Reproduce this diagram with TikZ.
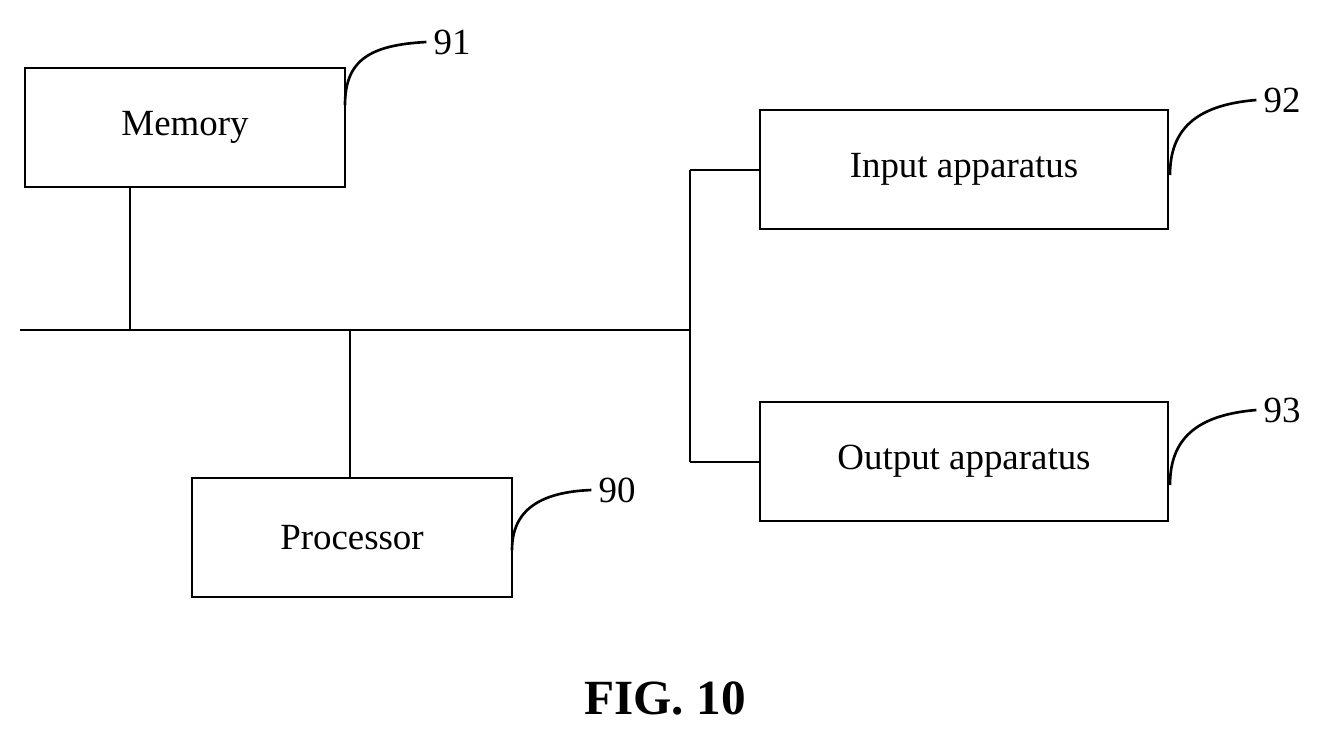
\documentclass[tikz,border=0pt]{standalone}
\usepackage{fontspec}
\setmainfont{Liberation Serif}
\begin{document}
\begin{tikzpicture}[x=0.02cm,y=-0.02cm,line width=1.5pt,
  box/.style={draw,line width=1.5pt,inner sep=0pt,font=\fontsize{21}{25}\selectfont},
  num/.style={font=\fontsize{21}{25}\selectfont},
  lead/.style={line width=1.5pt}]
\useasboundingbox (0,0) rectangle (1326,738);
\node[box,minimum width=320*0.02cm,minimum height=119*0.02cm] (mem) at (185,127.5) {Memory};
\node[box,minimum width=320*0.02cm,minimum height=119*0.02cm] (proc) at (352,537.5) {Processor};
\node[box,minimum width=408*0.02cm,minimum height=119*0.02cm] (in) at (964,169.5) {Input apparatus};
\node[box,minimum width=408*0.02cm,minimum height=119*0.02cm] (out) at (964,461.5) {Output apparatus};
\coordinate (bl) at (20,330);
\coordinate (br) at (690,330);
\coordinate (jm) at (130,330);
\coordinate (jp) at (350,330);
\coordinate (vt) at (690,170);
\coordinate (vb) at (690,462);
\draw (bl) -- (br);
\draw (jm) -- (mem.south -| jm);
\draw (jp) -- (proc.north -| jp);
\draw (vt) -- (vb);
\draw (vt) -- (in.west |- vt);
\draw (vb) -- (out.west |- vb);
\node[num] (n91) at (452,42) {91};
\node[num] (n92) at (1282,100) {92};
\node[num] (n93) at (1282,410) {93};
\node[num] (n90) at (617,490) {90};
\draw[lead] (345,105) .. controls (345,60) and (370,45) .. (n91.west);
\draw[lead] (1170,175) .. controls (1170,130) and (1195,105) .. (n92.west);
\draw[lead] (1170,485) .. controls (1170,440) and (1195,415) .. (n93.west);
\draw[lead] (512,550) .. controls (512,510) and (540,492) .. (n90.west);
\node[font=\bfseries\fontsize{28}{32}\selectfont] (fig) at (665,698) {FIG. 10};
\end{tikzpicture}
\end{document}
